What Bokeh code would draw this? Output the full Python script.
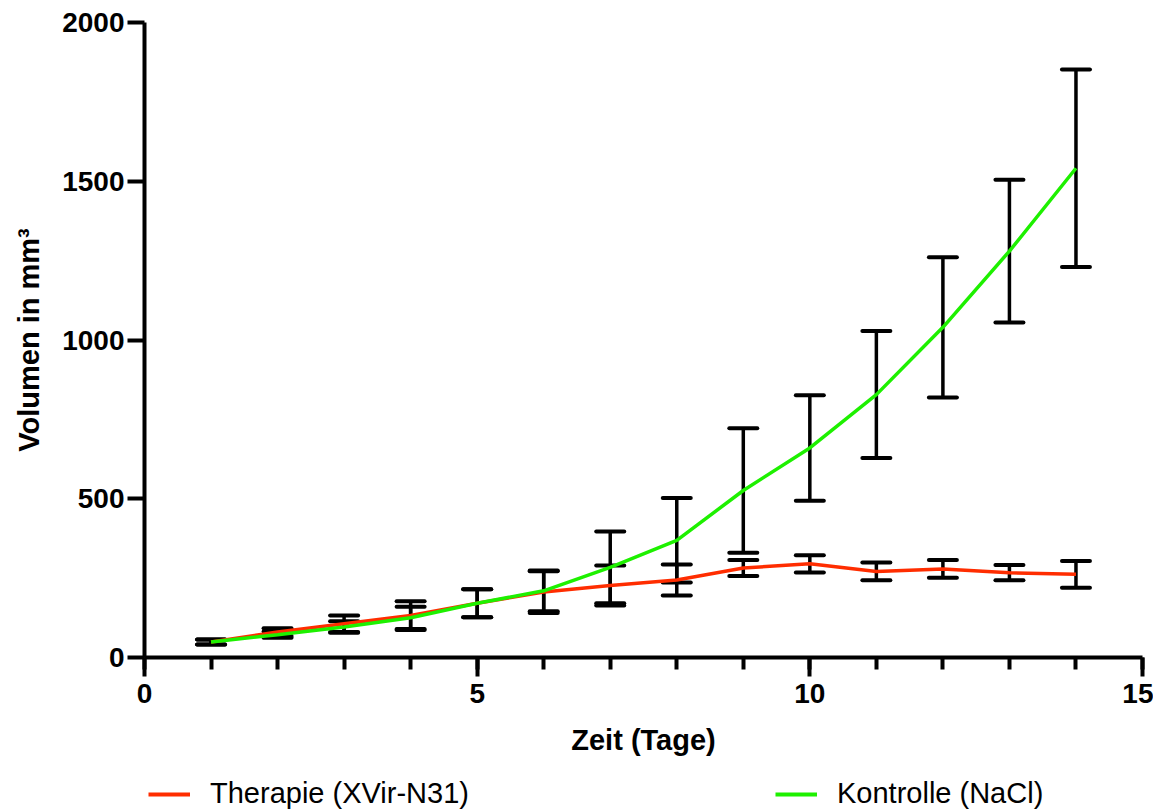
from bokeh.plotting import figure
from bokeh.layouts import column
from bokeh.models import (ColumnDataSource, Whisker, TeeHead, Legend, LegendItem,
                          FixedTicker, Range1d)
from bokeh.embed import file_html
from bokeh.resources import INLINE

# ---- data ----
days = [1, 2, 3, 4, 5, 6, 7, 8, 9, 10, 11, 12, 13, 14]
therapie_mean = [49, 80, 106, 132, 171, 206, 227, 244, 282, 295, 271, 279, 267, 262]
therapie_sd = [8, 12, 26, 45, 44, 66, 63, 49, 25, 27, 28, 28, 24, 42]
kontrolle_mean = [49, 72, 96, 125, 171, 210, 284, 369, 526, 660, 828, 1040, 1280, 1541]
kontrolle_sd = [8, 10, 18, 35, 44, 64, 113, 133, 196, 166, 200, 221, 225, 311]
x_ticks = [0, 5, 10, 15]
y_ticks = [0, 500, 1000, 1500, 2000]

label_therapie = "Therapie (XVir-N31)"
label_kontrolle = "Kontrolle (NaCl)"
RED = "#FF2D00"
GREEN = "#1EF000"
FONT = "Liberation Sans"

p = figure(width=1153, height=765, output_backend="svg", toolbar_location=None,
           x_range=Range1d(0, 15), y_range=Range1d(0, 2000),
           min_border_left=144, min_border_right=11, min_border_top=22,
           min_border_bottom=108)
p.outline_line_color = None
p.xgrid.visible = False
p.ygrid.visible = False

src_t = ColumnDataSource(dict(
    x=days, y=therapie_mean,
    upper=[m + s for m, s in zip(therapie_mean, therapie_sd)],
    lower=[m - s for m, s in zip(therapie_mean, therapie_sd)]))
src_k = ColumnDataSource(dict(
    x=days, y=kontrolle_mean,
    upper=[m + s for m, s in zip(kontrolle_mean, kontrolle_sd)],
    lower=[m - s for m, s in zip(kontrolle_mean, kontrolle_sd)]))

r_t = p.line("x", "y", source=src_t, line_color=RED, line_width=3.5)
r_k = p.line("x", "y", source=src_k, line_color=GREEN, line_width=3.5)

for src in (src_t, src_k):
    w = Whisker(base="x", upper="upper", lower="lower", source=src,
                line_color="black", line_width=3.5,
                upper_head=TeeHead(size=28, line_width=4, line_color="black", line_cap="round"),
                lower_head=TeeHead(size=28, line_width=4, line_color="black", line_cap="round"))
    p.add_layout(w)

# axes
for ax in (p.xaxis[0], p.yaxis[0]):
    ax.axis_line_width = 4
    ax.axis_line_color = "black"
    ax.major_tick_line_width = 4
    ax.major_tick_line_color = "black"
    ax.minor_tick_line_width = 4
    ax.minor_tick_line_color = "black"
    ax.major_tick_in = 0
    ax.minor_tick_in = 0
    ax.major_label_text_font = FONT
    ax.major_label_text_font_style = "bold"
    ax.major_label_text_font_size = "28px"
    ax.major_label_text_color = "black"
    ax.axis_label_text_font = FONT
    ax.axis_label_text_font_style = "bold"
    ax.axis_label_text_font_size = "29px"
    ax.axis_label_text_color = "black"

p.xaxis.ticker = FixedTicker(ticks=x_ticks, minor_ticks=days + [0, 15])
p.xaxis.major_tick_out = 19
p.xaxis.minor_tick_out = 12
p.xaxis.major_label_standoff = 7
p.xaxis.axis_label = "Zeit (Tage)"
p.xaxis.axis_label_standoff = 18

p.yaxis.ticker = FixedTicker(ticks=y_ticks, minor_ticks=[])
p.yaxis.major_tick_out = 17
p.yaxis.minor_tick_out = 0
p.yaxis.major_label_standoff = 3
p.yaxis.axis_label = "Volumen in mm³"
p.yaxis.axis_label_standoff = 14

# ---- legend strip below the chart (its ranges keep the series out of view) ----
p2 = figure(width=1153, height=47, output_backend="svg", toolbar_location=None,
            x_range=Range1d(0, 15), y_range=Range1d(-20000, -10000),
            min_border=0, min_border_left=0, min_border_right=0,
            min_border_top=0, min_border_bottom=0)
p2.outline_line_color = None
p2.axis.visible = False
p2.grid.visible = False
lg_t = p2.line("x", "y", source=src_t, line_color=RED, line_width=4)
lg_k = p2.line("x", "y", source=src_k, line_color=GREEN, line_width=4)

def make_legend(label, renderer, loc):
    lg = Legend(items=[LegendItem(label=label, renderers=[renderer])],
                location=loc, orientation="horizontal",
                border_line_color=None, background_fill_alpha=0,
                padding=0, margin=0, glyph_width=42, glyph_height=30,
                label_height=30, label_standoff=20,
                label_text_font=FONT, label_text_font_size="29px",
                label_text_color="black")
    p2.add_layout(lg)
    return lg

make_legend(label_therapie, lg_t, (4, 2))
make_legend(label_kontrolle, lg_k, (631, 2))

layout = column(p, p2, spacing=0)
open("out.html", "w").write(file_html(layout, INLINE))
